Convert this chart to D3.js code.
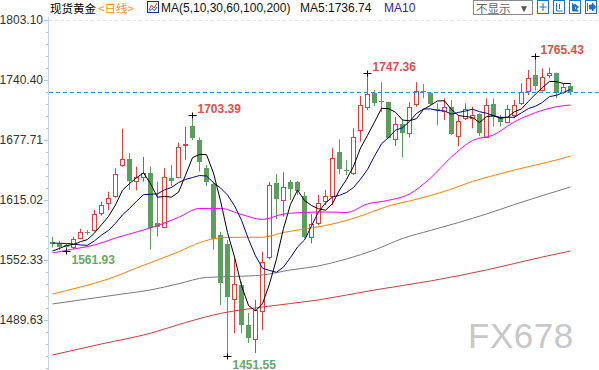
<!DOCTYPE html>
<meta charset="utf-8">
<head>
<script src="https://cdn.jsdelivr.net/npm/d3@7"></script>
<style>
body { margin: 0; background: #fff; }
svg { display: block; font-family: "Liberation Sans", Arial, sans-serif; }
</style>
</head>
<body>
<svg id="chart"></svg>
<script>
// daily candles, oldest first
var open = [1571.2,1569.1,1567.5,1565.9,1575.0,1581.6,1583.5,1601.1,1611.6,1619.5,
  1651.4,1657.6,1634.4,1639.4,1643.6,1591.3,1587.1,1638.0,1638.8,1672.5,
  1692.4,1677.7,1648.2,1631.8,1578.5,1569.1,1511.3,1526.2,1484.4,1469.8,
  1499.4,1555.8,1632.5,1615.0,1633.8,1633.8,1619.2,1576.7,1590.7,1613.7,
  1619.2,1664.9,1646.1,1642.9,1688.2,1711.7,1727.1,1718.2,1716.9,1678.5,
  1694.2,1685.4,1715.1,1729.4,1727.1,1709.6,1707.7,1712.5,1681.9,1700.4,
  1700.4,1704.9,1681.2,1715.3,1701.4,1696.8,1703.8,1716.1,1729.2,1745.6,
  1730.0,1745.6,1747.7,1728.2,1733.8];
var high = [1576.4,1572.5,1569.1,1576.7,1585.0,1583.7,1604.6,1613.3,1623.7,1648.2,
  1689.7,1663.8,1649.8,1660.0,1649.8,1634.2,1648.2,1651.6,1674.9,1691.6,
  1703.39,1680.5,1651.6,1634.2,1581.9,1573.2,1554.1,1529.7,1497.0,1510.6,
  1561.0,1633.8,1642.2,1644.0,1635.9,1634.9,1623.4,1600.4,1620.3,1625.5,
  1669.1,1678.5,1656.8,1690.0,1723.7,1747.36,1730.0,1738.3,1717.7,1701.8,
  1698.6,1717.2,1738.1,1736.2,1727.9,1716.1,1721.3,1719.5,1703.8,1716.1,
  1712.5,1705.6,1721.3,1721.3,1703.8,1714.3,1719.5,1737.0,1750.9,1765.43,
  1752.6,1753.3,1748.0,1737.0,1737.0];
var low = [1565.4,1562.8,1561.93,1563.8,1574.0,1578.5,1581.9,1598.6,1604.6,1617.4,
  1649.8,1625.5,1625.0,1634.2,1563.5,1576.7,1585.5,1629.7,1637.5,1656.8,
  1677.7,1644.6,1629.7,1563.0,1505.3,1451.55,1475.8,1475.8,1465.6,1455.2,
  1479.2,1553.1,1594.9,1597.6,1615.0,1620.3,1575.0,1569.8,1588.9,1609.8,
  1609.8,1641.9,1641.2,1641.2,1676.0,1709.1,1713.3,1707.0,1679.3,1671.5,
  1659.4,1680.3,1712.5,1721.3,1714.3,1692.9,1698.6,1683.0,1671.3,1698.6,
  1690.0,1681.9,1680.3,1691.6,1691.6,1695.2,1700.4,1714.3,1724.7,1729.2,
  1728.2,1742.2,1721.3,1725.8,1724.7];
var close = [1569.4,1566.2,1565.6,1574.0,1582.1,1580.6,1600.1,1609.3,1617.6,1642.0,
  1657.6,1634.4,1639.4,1643.6,1585.3,1586.8,1638.8,1635.2,1670.1,1673.2,
  1679.5,1654.7,1634.2,1574.0,1528.6,1513.4,1527.3,1484.4,1470.5,1500.1,
  1550.6,1630.7,1615.8,1628.9,1626.8,1624.8,1576.1,1589.6,1612.2,1619.2,
  1658.6,1647.1,1645.3,1681.2,1714.0,1725.6,1716.1,1717.4,1679.8,1694.2,
  1685.4,1711.9,1728.6,1728.4,1715.1,1708.8,1711.9,1683.5,1697.1,1710.1,
  1703.8,1685.4,1714.0,1702.1,1696.8,1709.8,1714.0,1728.2,1742.2,1734.1,
  1743.2,1747.2,1726.5,1732.8,1727.9];

// moving averages
var ma5 = [1561.7,1564.4,1567.5,1568.5,1571.5,1573.7,1580.5,1589.2,1597.9,1609.9,
  1625.3,1632.2,1638.2,1643.4,1632.1,1617.9,1618.8,1618.0,1623.2,1640.8,
  1659.3,1662.6,1662.4,1643.1,1614.2,1581.0,1555.5,1525.5,1504.8,1499.2,
  1506.6,1527.3,1553.5,1585.3,1610.5,1625.4,1614.5,1609.3,1605.9,1604.4,
  1611.2,1625.4,1636.5,1650.2,1669.3,1682.6,1696.4,1710.8,1710.5,1706.7,
  1698.6,1697.8,1700.0,1709.7,1713.9,1718.6,1718.6,1709.5,1703.2,1702.3,
  1701.2,1696.0,1702.1,1703.1,1700.4,1701.6,1707.3,1710.2,1718.2,1725.7,
  1732.4,1739.0,1738.6,1736.8,1736.74];
var ma10 = [1570.1,1569.8,1569.6,1569.1,1568.0,1567.7,1572.4,1578.4,1583.2,1590.7,
  1599.5,1606.3,1613.7,1620.6,1621.0,1621.5,1625.5,1628.1,1633.2,1636.5,
  1638.5,1640.6,1640.1,1633.1,1627.6,1620.2,1609.0,1593.9,1574.0,1556.6,
  1543.8,1541.4,1539.5,1545.0,1554.9,1565.9,1573.2,1587.9,1602.5,1611.9,
  1618.2,1619.9,1622.9,1628.1,1636.8,1646.9,1660.9,1673.7,1680.3,1688.0,
  1690.6,1697.1,1705.4,1710.1,1710.2,1708.6,1708.1,1704.7,1706.5,1708.0,
  1709.9,1707.3,1705.7,1703.1,1701.3,1701.4,1701.6,1706.1,1710.6,1713.0,
  1717.0,1723.1,1724.4,1727.5,1730.6];
var ma30Idx = [0,3,6,9,12,15,18,21,24,27,30,33,36,39,42,45,48,51,54,57,60,63,66,69,72,74];
var ma30 = [1559.7,1563.8,1568.0,1575.3,1581.6,1588.4,1596.8,1606.2,1606.2,1599.9,1594.7,1600.4,1602.0,
  1602.5,1602.0,1610.9,1614.7,1621.3,1638.0,1660.0,1677.2,1683.0,1696.8,1706.3,1712.5,1714.3];
var ma60Idx = [0,4,8,12,15,18,21,24,27,30,33,36,39,42,45,48,51,54,57,60,63,66,69,72,74];
var ma60 = [1516.8,1524.1,1532.5,1544.0,1552.3,1560.9,1570.4,1575.5,1576.1,1576.1,1581.1,1584.7,1588.4,
  1593.6,1600.9,1608.8,1614.0,1619.7,1626.5,1634.4,1640.6,1646.4,1651.6,1656.8,1661.0];
var ma100Idx = [0,5,10,14,18,22,26,30,34,38,42,46,50,54,58,62,66,70,74];
var ma100 = [1506.4,1511.6,1516.8,1521.0,1527.5,1534.1,1535.1,1536.7,1541.9,1546.1,1553.4,1562.8,
  1574.8,1583.2,1591.5,1600.4,1610.3,1619.7,1628.6];
var ma200Idx = [0,7,14,19,24,30,38,46,54,62,70,74];
var ma200 = [1453.1,1464.6,1475.8,1487.0,1496.5,1503.2,1510.6,1521.0,1530.4,1541.9,1555.5,1561.7];

var yTicks = [1803.10, 1740.40, 1677.71, 1615.02, 1552.33, 1489.63];

// marked extremes: candle index and which end
var markIdx = [2, 20, 25, 45, 69];
var markType = ["low", "high", "low", "high", "high"];

var width = 599, height = 370;
var RED = "#e0403a", GREEN = "#5c9f5c";
var svg = d3.select("#chart").attr("width", width).attr("height", height);

var x = d3.scaleLinear().domain([0, open.length - 1]).range([52.5, 570.5]);
var y = d3.scaleLinear().domain([1489.63, 1803.10]).range([320, 20]);

// faint top line
svg.append("line").attr("x1", 49).attr("x2", width).attr("y1", 20.5).attr("y2", 20.5)
  .attr("stroke", "#e4e4e4").attr("stroke-dasharray", "3,3");

// y axis
svg.append("line").attr("x1", 48.5).attr("x2", 48.5).attr("y1", 17).attr("y2", height)
  .attr("stroke", "#c6d6e6");
var step = (yTicks[0] - yTicks[1]) / 5;
var minor = d3.range(-4, 26).filter(function(k) { return k % 5 !== 0; })
  .map(function(k) { return yTicks[yTicks.length - 1] + k * step; });
var gMinor = svg.append("g").attr("transform", "translate(48,0)")
  .call(d3.axisLeft(y).tickValues(minor).tickSize(2).tickFormat(""));
var gAxis = svg.append("g").attr("transform", "translate(48,0)")
  .call(d3.axisLeft(y).tickValues(yTicks).tickSize(4).tickPadding(1).tickFormat(d3.format(".2f")));
svg.selectAll(".domain").remove();
svg.selectAll(".tick line").attr("stroke", "#b4c6d8");
gAxis.selectAll("text").attr("fill", "#333").style("font-size", "12px")
  .style("font-family", "'Liberation Sans', Arial, sans-serif");

// candles
var gc = svg.append("g");
d3.range(open.length).forEach(function(i) {
  var cx = x(i);
  var isUp = close[i] >= open[i];
  var col = isUp ? RED : GREEN;
  var top = Math.round(y(Math.max(open[i], close[i])));
  var bot = Math.round(y(Math.min(open[i], close[i])));
  var yh = y(high[i]), yl = y(low[i]);
  if (isUp) {
    gc.append("line").attr("x1", cx).attr("x2", cx).attr("y1", yh).attr("y2", top + 0.5).attr("stroke", col);
    gc.append("line").attr("x1", cx).attr("x2", cx).attr("y1", bot + 0.5).attr("y2", yl).attr("stroke", col);
    if (bot - top < 1) {
      gc.append("line").attr("x1", cx - 2.5).attr("x2", cx + 2.5).attr("y1", top + 0.5).attr("y2", top + 0.5).attr("stroke", col);
    } else {
      gc.append("rect").attr("x", cx - 2).attr("y", top + 0.5).attr("width", 4).attr("height", bot - top)
        .attr("fill", "#fff").attr("stroke", col);
    }
  } else {
    gc.append("line").attr("x1", cx).attr("x2", cx).attr("y1", yh).attr("y2", yl).attr("stroke", col);
    gc.append("rect").attr("x", cx - 2.5).attr("y", top).attr("width", 5).attr("height", Math.max(1, bot - top))
      .attr("fill", col);
  }
});

// moving average lines
function pairs(idx, vals) { return idx.map(function(d, k) { return [d, vals[k]]; }); }
var all = d3.range(open.length);
var lines = [
  { data: pairs(ma200Idx, ma200), color: "#d23c3c", curve: d3.curveMonotoneX },
  { data: pairs(ma100Idx, ma100), color: "#7a7a7a", curve: d3.curveMonotoneX },
  { data: pairs(ma60Idx, ma60), color: "#ff8000", curve: d3.curveMonotoneX },
  { data: pairs(ma30Idx, ma30), color: "#ff00ff", curve: d3.curveMonotoneX },
  { data: pairs(all, ma10), color: "#00008b", curve: d3.curveLinear },
  { data: pairs(all, ma5), color: "#000000", curve: d3.curveLinear }
];
lines.forEach(function(l) {
  var line = d3.line().x(function(d) { return x(d[0]); }).y(function(d) { return y(d[1]); }).curve(l.curve);
  svg.append("path").datum(l.data).attr("d", line).attr("fill", "none")
    .attr("stroke", l.color).attr("stroke-width", 1);
});

// last price line
var lastY = Math.round(y(close[close.length - 1])) + 0.5;
svg.append("line").attr("x1", 49).attr("x2", width).attr("y1", lastY).attr("y2", lastY)
  .attr("stroke", "#1e8fff").attr("stroke-dasharray", "4,3");

// extreme markers
markIdx.forEach(function(i, k) {
  var v = markType[k] === "high" ? high[i] : low[i];
  var cx = x(i), cy = Math.round(y(v)) + 0.5;
  svg.append("line").attr("x1", cx - 4).attr("x2", cx + 4).attr("y1", cy).attr("y2", cy).attr("stroke", "#000");
  svg.append("line").attr("x1", cx).attr("x2", cx).attr("y1", cy - 3).attr("y2", cy + 3).attr("stroke", "#000");
  svg.append("text").attr("x", cx + 5).attr("y", markType[k] === "high" ? cy - 3 : cy + 12)
    .attr("fill", markType[k] === "high" ? "#e05048" : "#66a866")
    .style("font-size", "12px").style("font-weight", "bold")
    .text(d3.format(".2f")(v));
});

// watermark
svg.append("text").attr("x", 468).attr("y", 348).attr("fill", "#c8c8c8")
  .style("font-size", "35px").style("letter-spacing", "0.5px").text("FX678");

// header
var cjk = "'Noto Sans CJK SC', 'Noto Sans', sans-serif";
svg.append("text").attr("x", 50).attr("y", 13.4).style("font-family", cjk).style("font-size", "11.5px")
  .attr("fill", "#000").text("现货黄金");
svg.append("text").attr("x", 98).attr("y", 13.4).style("font-family", cjk).style("font-size", "11.5px")
  .attr("fill", "#ff8a1e").text("<日线>");
svg.append("rect").attr("x", 147.5).attr("y", 1.5).attr("width", 11).attr("height", 11)
  .attr("fill", "#fff").attr("stroke", "#1c2f8c");
svg.append("polyline").attr("points", "149,10 151.5,5 154,8 157,3").attr("fill", "none").attr("stroke", "#e03030");
svg.append("polyline").attr("points", "149,11.5 152,8.5 154.5,10.5 157,7").attr("fill", "none").attr("stroke", "#2040c0");
svg.append("text").attr("x", 161).attr("y", 12).style("font-size", "12px").attr("fill", "#111")
  .text("MA(5,10,30,60,100,200)");
svg.append("text").attr("x", 300).attr("y", 12).style("font-size", "12px").attr("fill", "#111")
  .text("MA5:" + d3.format(".2f")(ma5[ma5.length - 1]));
svg.append("text").attr("x", 384).attr("y", 12).style("font-size", "12px").attr("fill", "#3322aa")
  .text("MA10");

// dropdown and buttons
svg.append("rect").attr("x", 473.5).attr("y", 0.5).attr("width", 59).attr("height", 14)
  .attr("fill", "#fff").attr("stroke", "#8a8a8a");
svg.append("text").attr("x", 476).attr("y", 13.4).style("font-family", cjk).style("font-size", "11.5px")
  .attr("fill", "#666").text("不显示");
svg.append("text").attr("x", 519).attr("y", 11.5).style("font-size", "10px").attr("fill", "#555").text("▼");
[537.5, 553.5, 569.5, 585.5].forEach(function(bx, k) {
  svg.append("rect").attr("x", bx).attr("y", 0.5).attr("width", 11).attr("height", 13)
    .attr("fill", "#fff").attr("stroke", "#1f72c8");
  var p = [
    "M" + (bx + 5.5) + ",3V11M" + (bx + 2) + ",7H" + (bx + 9),
    "M" + (bx + 3) + ",3V11H" + (bx + 9) + "M" + (bx + 6) + ",4V9",
    "M" + (bx + 3) + ",3V11H" + (bx + 9) + "M" + (bx + 5) + ",4L" + (bx + 9) + ",7L" + (bx + 5) + ",10Z",
    "M" + (bx + 2) + ",3V11M" + (bx + 4) + ",5H" + (bx + 7) + "V3L" + (bx + 10) + ",7L" + (bx + 7) + ",11V9H" + (bx + 4) + "Z"
  ][k];
  svg.append("path").attr("d", p).attr("fill", k >= 2 ? "#1f72c8" : "none").attr("stroke", "#1f72c8");
});
</script>
</body>
